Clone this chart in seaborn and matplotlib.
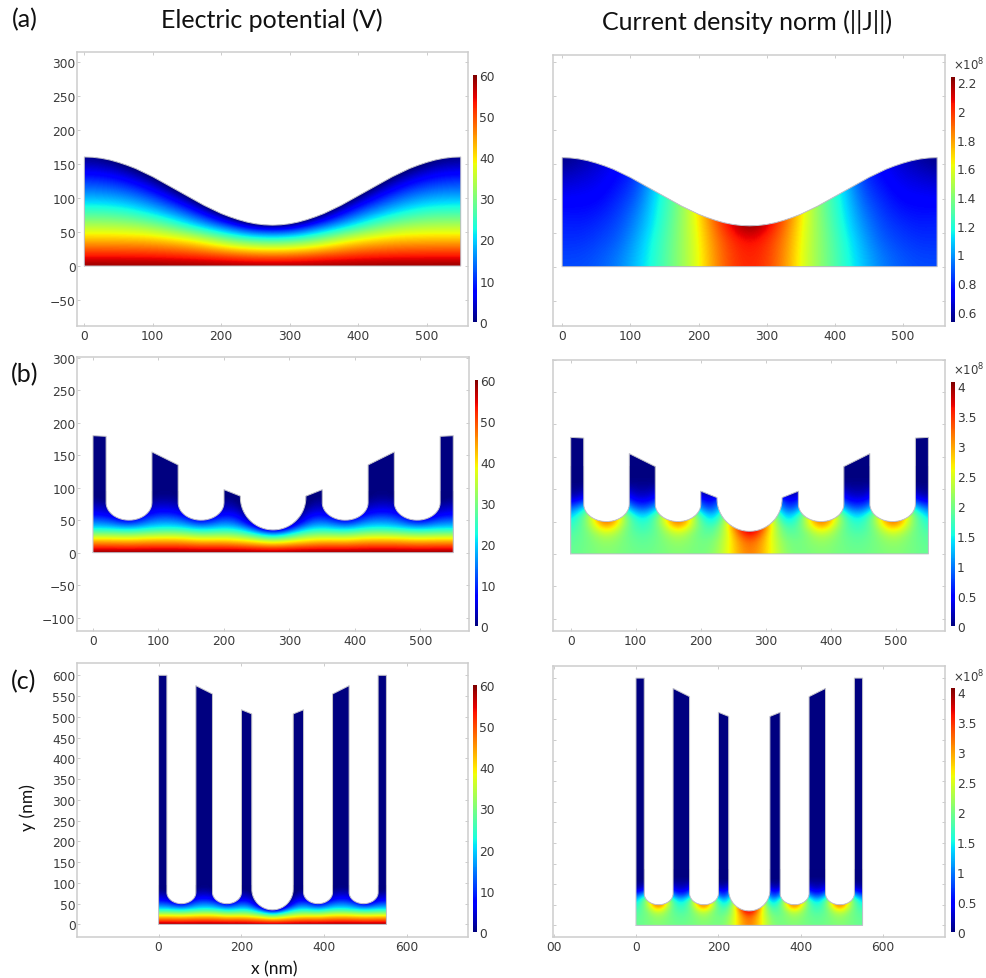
import numpy as np
import matplotlib
matplotlib.use('Agg')
import matplotlib.pyplot as plt
from matplotlib.patches import Polygon
import seaborn as sns

W, H = 986, 979

# field samples, half domain (the structures are mirror symmetric)
# one inner list per x in X_NODES, going up in y
X_NODES = [0, 27.5, 55, 82.5, 110, 137.5, 165, 192.5, 220, 247.5, 275]
Y_NODES_SINE = [0, 20, 40, 60, 80, 100, 120, 140, 160]
Y_NODES_V = [0, 10, 20, 30, 40, 50, 60, 70, 80, 90]
Y_NODES_J = [0, 10, 20, 30, 40, 50, 60, 70, 80, 90, 100, 110, 120, 130]

V_SINE = [
    [60, 51, 42, 33.5, 25.3, 18.3, 12.2, 6.1, 0],
    [60, 51, 42, 33.5, 25.2, 18, 11.8, 5.5, -0.5],
    [60, 50.9, 41.9, 33, 24.4, 16.9, 10.2, 3.4, -3.4],
    [60, 50.8, 41.7, 32, 22, 14.5, 7.1, -0.4, -7.8],
    [60, 50.4, 40.9, 29.4, 18.7, 10.4, 2.1, -6, -14.5],
    [60, 49.8, 39.5, 25, 14.3, 4.8, -4.8, -14, -24],
    [60, 48.7, 37, 19.7, 8.5, -2.8, -14, -25, -36],
    [60, 47.4, 32.3, 14.4, 0.7, -13, -27, -41, -55],
    [60, 45.8, 27.7, 8.8, -8.8, -26, -44, -62, -80],
    [60, 44.3, 25.2, 2.3, -21, -44, -67, -90, -113],
    [60, 43.7, 24.4, 0, -24, -48, -72, -96, -120],
]
J_SINE = [
    [.87, .85, .82, .80, .77, .72, .67, .60, .54],
    [.87, .85, .82, .79, .76, .73, .69, .64, .58],
    [.90, .88, .85, .82, .78, .74, .71, .68, .64],
    [.96, .94, .90, .87, .84, .81, .77, .74, .72],
    [1.08, 1.06, 1.03, .99, .95, .90, .86, .82, .80],
    [1.22, 1.21, 1.20, 1.17, 1.15, 1.13, 1.10, 1.10, 1.10],
    [1.38, 1.38, 1.37, 1.36, 1.34, 1.33, 1.33, 1.33, 1.33],
    [1.55, 1.55, 1.56, 1.57, 1.58, 1.58, 1.58, 1.58, 1.58],
    [1.79, 1.80, 1.82, 1.85, 1.90, 1.90, 1.90, 1.90, 1.90],
    [1.97, 1.98, 2.00, 2.08, 2.15, 2.15, 2.15, 2.15, 2.15],
    [2.03, 2.04, 2.08, 2.24, 2.35, 2.35, 2.35, 2.35, 2.35],
]
V_GRATING = [
    [60, 50.6, 41.3, 29.7, 19.5, 13.3, 7, 4.2, 1.4, 0],
    [60, 50.6, 41.3, 29.7, 19.1, 12, 6, 3, 0, -1],
    [60, 50.2, 40.4, 28.8, 16.4, 4, -1, -4, -6, -8],
    [60, 50.8, 41.7, 30.6, 19.9, 13.5, 7.4, 4, 1.5, 0],
    [60, 51, 42, 31.9, 21.4, 15.7, 9.9, 5.6, 2.8, 0.3],
    [60, 50.8, 41.7, 31.1, 20.6, 13.8, 7, 3.5, 1, 0],
    [60, 49.8, 39.5, 27.9, 16, 4, -1, -4, -6, -8],
    [60, 50.2, 40.4, 29.2, 19.5, 13.3, 7, 4, 1.5, 0],
    [60, 49.5, 39, 28.9, 19, 12, 7, 3.5, 1, 0],
    [60, 48.1, 36, 22, 8, -2, -4, -6, -8, -8],
    [60, 46.3, 31.6, 12.2, -10, -10, -10, -10, -10, -10],
]
J_GRATING = [
    [1.9, 1.9, 1.85, 1.8, 1.65, 1.5, 1.2, .85, .45, .15, .05, 0, 0, 0],
    [2.0, 2.0, 2.0, 2.0, 2.05, 2.1, 2.1, 1.5, .8, .3, .1, 0, 0, 0],
    [2.1, 2.15, 2.25, 2.5, 3.1, 3.7, 4.0, 4.0, 3.0, 2.0, 1.0, 0, 0, 0],
    [2.0, 2.0, 2.0, 2.0, 2.0, 2.1, 2.0, 1.3, .8, .4, .2, .05, 0, 0],
    [1.95, 1.9, 1.85, 1.75, 1.6, 1.4, 1.05, .7, .4, .2, .1, .03, 0, 0],
    [2.0, 2.0, 2.0, 2.0, 2.0, 2.1, 2.0, 1.3, .8, .4, .2, .05, 0, 0],
    [2.1, 2.15, 2.25, 2.5, 3.1, 3.7, 4.0, 4.0, 3.0, 2.0, 1.0, 0, 0, 0],
    [2.0, 2.0, 2.0, 1.95, 2.0, 2.05, 1.9, 1.2, .8, .3, .1, 0, 0, 0],
    [2.05, 2.0, 1.95, 1.8, 1.6, 1.2, .85, .5, .3, .15, .05, 0, 0, 0],
    [2.75, 2.75, 2.75, 2.75, 2.9, 3.0, 3.0, 2.5, 2.0, 1.0, .5, 0, 0, 0],
    [3.3, 3.35, 3.5, 3.95, 4.4, 4.4, 4.4, 4, 3, 2, 1, 0, 0, 0],
]

# geometry (nm)
SINE_X = [0, 12.5, 25, 37.5, 50, 62.5, 75, 87.5, 100, 112.5, 125, 137.5, 150, 162.5, 175, 187.5,
          200, 212.5, 225, 237.5, 250, 262.5, 275, 287.5, 300, 312.5, 325, 337.5, 350, 362.5,
          375, 387.5, 400, 412.5, 425, 437.5, 450, 462.5, 475, 487.5, 500, 512.5, 525, 537.5, 550]
SINE_TOP = [160, 159.5, 158, 155.5, 152, 147.8, 143, 137, 131, 124, 117, 110, 103, 96, 89, 83,
            77, 72.2, 68, 64.5, 62, 60.5, 60, 60.5, 62, 64.5, 68, 72.2, 77, 83,
            89, 96, 103, 110, 117, 124, 131, 137, 143, 147.8, 152, 155.5, 158, 159.5, 160]
RIDGE_LEFT = [0, 90, 200, 325, 420, 530]
RIDGE_RIGHT = [20, 130, 225, 350, 460, 550]
TOP_LEFT_B = [180, 155, 97, 87, 135, 179]
TOP_RIGHT_B = [179, 135, 87, 97, 155, 180]
TOP_LEFT_C = [600, 575, 517, 507, 555, 600]
TOP_RIGHT_C = [600, 555, 507, 517, 575, 600]
GROOVE_BOTTOM = [50, 50, 35, 50, 50]
GROOVE_SHOULDER = [77, 77, 85, 77, 77]

# tick values and labels
Y_TICKS_A = [-50, 0, 50, 100, 150, 200, 250, 300]
Y_TICKS_B = [-100, -50, 0, 50, 100, 150, 200, 250, 300]
Y_TICKS_C = [0, 50, 100, 150, 200, 250, 300, 350, 400, 450, 500, 550, 600]
X_TICKS_AB = [0, 100, 200, 300, 400, 500]
X_TICKS_C = [0, 200, 400, 600]
X_TICKS_C_RIGHT = [-200, 0, 200, 400, 600]
X_LABELS_C_RIGHT = ['00', '0', '200', '400', '600']
CB_V = [0, 10, 20, 30, 40, 50, 60]
CB_J_SINE = [0.6, 0.8, 1, 1.2, 1.4, 1.6, 1.8, 2, 2.2]
CB_J_SINE_LABELS = ['0.6', '0.8', '1', '1.2', '1.4', '1.6', '1.8', '2', '2.2']
CB_J_GRATING = [0, 0.5, 1, 1.5, 2, 2.5, 3, 3.5, 4]
CB_J_GRATING_LABELS = ['0', '0.5', '1', '1.5', '2', '2.5', '3', '3.5', '4']

sns.set_theme(style='white')
plt.rcParams['font.family'] = ['DejaVu Sans']
plt.rcParams['mathtext.fontset'] = 'dejavusans'
TEXT = '#3a3a3a'
NAVY = plt.get_cmap('jet')(0.0)

fig = plt.figure(figsize=(W / 100, H / 100), dpi=100, facecolor='white')


def px_axes(x0, y0, x1, y1):
    return fig.add_axes([x0 / W, 1 - y1 / H, (x1 - x0) / W, (y1 - y0) / H])


def sine_outline():
    xs = [0] + SINE_X + [550, 0]
    ys = [0] + SINE_TOP + [0, 0]
    return np.array(xs, float), np.array(ys, float)


def grating_outline(top_left, top_right):
    xs, ys = [0.0], [0.0]
    for i in range(len(RIDGE_LEFT)):
        xs += [RIDGE_LEFT[i], RIDGE_RIGHT[i]]
        ys += [top_left[i], top_right[i]]
        if i < len(GROOVE_BOTTOM):
            c = (RIDGE_RIGHT[i] + RIDGE_LEFT[i + 1]) / 2
            hw = (RIDGE_LEFT[i + 1] - RIDGE_RIGHT[i]) / 2
            t = np.linspace(np.pi, 2 * np.pi, 48)
            xs += list(c + hw * np.cos(t))
            ys += list(GROOVE_SHOULDER[i] + (GROOVE_SHOULDER[i] - GROOVE_BOTTOM[i]) * np.sin(t))
    xs += [550, 0]
    ys += [0, 0]
    return np.array(xs, float), np.array(ys, float)


def panel(box, xlim, ylim, outline, field, y_nodes, vmin, vmax, xticks, xlabels, yticks, show_y,
          cbox, cticks, clabels):
    ax = px_axes(*box)
    ox, oy = outline
    patch = Polygon(np.column_stack([ox, oy]), closed=True, facecolor=NAVY, edgecolor='none',
                    transform=ax.transData, zorder=1)
    ax.add_patch(patch)

    half = np.array(field, float).T
    full = np.hstack([half, half[:, -2::-1]])
    dx = X_NODES[1] - X_NODES[0]
    dy = y_nodes[1] - y_nodes[0]
    im = ax.imshow(full, origin='lower', cmap='jet', vmin=vmin, vmax=vmax, aspect='auto',
                   interpolation='bicubic', interpolation_stage='data', zorder=2,
                   extent=(-dx / 2, 550 + dx / 2, y_nodes[0] - dy / 2, y_nodes[-1] + dy / 2))
    im.set_clip_path(patch)

    sns.lineplot(x=ox, y=oy, sort=False, estimator=None, color='#c6c6cc', linewidth=0.7,
                 ax=ax, zorder=3, legend=False)

    ax.set_xlim(*xlim)
    ax.set_ylim(*ylim)
    ax.set_xticks(xticks)
    ax.set_xticklabels(xlabels)
    ax.set_yticks(yticks)
    if not show_y:
        ax.set_yticklabels([])
    ax.tick_params(direction='in', length=2, width=0.6, color='#c4c4c4', top=True, right=True,
                   bottom=True, left=True, labelsize=8.8, labelcolor=TEXT, pad=2)
    ax.tick_params(axis='y', pad=1)
    for s in ax.spines.values():
        s.set_color('#cdcdcd')
        s.set_linewidth(1.1)

    cax = px_axes(*cbox)
    cb = fig.colorbar(im, cax=cax)
    cb.set_ticks(cticks)
    cb.set_ticklabels(clabels)
    cb.ax.tick_params(length=0, labelsize=8.8, labelcolor=TEXT, pad=1.5)
    cb.outline.set_visible(False)
    return ax


ticks_ab = [str(v) for v in X_TICKS_AB]
ticks_c = [str(v) for v in X_TICKS_C]
v_labels = [str(v) for v in CB_V]
sine = sine_outline()
grating_b = grating_outline(TOP_LEFT_B, TOP_RIGHT_B)
grating_c = grating_outline(TOP_LEFT_C, TOP_RIGHT_C)

panel((77, 53, 468, 327), (-10.7, 560.6), (-88, 314), sine, V_SINE, Y_NODES_SINE, 0, 60,
      X_TICKS_AB, ticks_ab, Y_TICKS_A, True, (473.3, 75.7, 477.3, 322.7), CB_V, v_labels)
panel((553.3, 55.7, 945.3, 327), (-13, 562), (-87, 311), sine, J_SINE, Y_NODES_SINE, 0.53, 2.24,
      X_TICKS_AB, ticks_ab, Y_TICKS_A, False, (950.7, 77.7, 955, 322.7), CB_J_SINE, CB_J_SINE_LABELS)
panel((77, 358.3, 469.3, 632.3), (-24.4, 574.5), (-121, 300.6), grating_b, V_GRATING, Y_NODES_V, 0, 60,
      X_TICKS_AB, ticks_ab, Y_TICKS_B, True, (474.7, 380.7, 478.3, 627.3), CB_V, v_labels)
panel((553.3, 360.7, 945.3, 632.3), (-26.8, 576), (-119.5, 298.5), grating_b, J_GRATING, Y_NODES_J, 0, 4.07,
      X_TICKS_AB, ticks_ab, Y_TICKS_B, False, (950.7, 382.7, 955, 627.3), CB_J_GRATING, CB_J_GRATING_LABELS)
panel((77, 664, 468, 938.3), (-197, 747), (-31, 629.6), grating_c, V_GRATING, Y_NODES_V, 0, 60,
      X_TICKS_C, ticks_c, Y_TICKS_C, True, (473.3, 685.7, 477.3, 933.3), CB_V, v_labels)
panel((553.3, 667.3, 945.3, 938.3), (-200.7, 750.7), (-29, 628.6), grating_c, J_GRATING, Y_NODES_J, 0, 4.07,
      X_TICKS_C_RIGHT, X_LABELS_C_RIGHT, Y_TICKS_C, False, (950.7, 689.3, 955, 933.3), CB_J_GRATING, CB_J_GRATING_LABELS)


def label(x, y, s, **kw):
    kw.setdefault('family', 'Lato')
    kw.setdefault('color', '#111111')
    fig.text(x / W, 1 - y / H, s, ha=kw.pop('ha', 'center'), va='center', **kw)


label(272, 20, 'Electric potential (V)', fontsize=18)
label(747, 22, 'Current density norm (||J||)', fontsize=18)
label(25, 20, '(a)', fontsize=18)
label(25, 375, '(b)', fontsize=18)
label(24, 682, '(c)', fontsize=18)
label(28, 808, 'y (nm)', fontsize=12.5, rotation=90)
label(274, 969, 'x (nm)', fontsize=12.5)
for y in (65, 370, 677):
    fig.text(969 / W, 1 - y / H, r'$\times$10$^{8}$', ha='center', va='center', fontsize=8.5, color=TEXT)

fig.savefig('out.png', dpi=100)
